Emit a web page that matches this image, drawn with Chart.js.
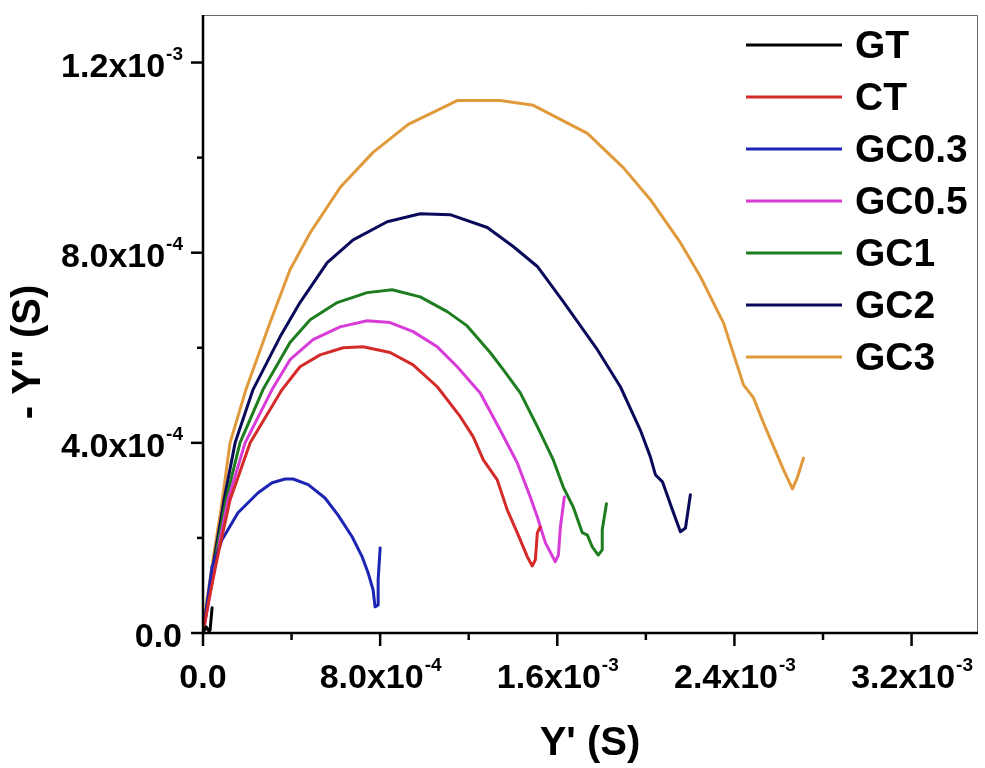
<!DOCTYPE html>
<html>
<head>
<meta charset="utf-8">
<script src="https://cdn.jsdelivr.net/npm/chart.js@4.4.1/dist/chart.umd.min.js"></script>
<style>
  html, body { margin: 0; padding: 0; background: #fff; }
  canvas { display: block; }
</style>
</head>
<body>
<canvas id="chart" width="985" height="768"></canvas>
<script>
// Admittance plot data, values in units of 1e-4 S
const seriesNames = ["GT", "CT", "GC0.3", "GC0.5", "GC1", "GC2", "GC3"];
const seriesColors = ["#000000", "#d42a2a", "#1c24b4", "#d83cd8", "#1e7d1e", "#0a0a5a", "#e09a3c"];

const gtX = [0, 0.14, 0.27, 0.32, 0.41];
const gtY = [0, 0.13, 0.04, 0.06, 0.53];

const ctX = [0, 0.27, 0.63, 1.22, 2.13, 3.57, 4.38, 5.29, 6.33, 7.23, 8.45, 9.49, 10.58, 11.62, 12.20, 12.66, 13.29, 13.74, 14.19, 14.65, 14.87, 15.01, 15.10, 15.23];
const ctY = [0, 0.70, 1.54, 2.80, 4.00, 5.12, 5.60, 5.85, 6.00, 6.02, 5.90, 5.64, 5.18, 4.55, 4.13, 3.64, 3.22, 2.59, 2.11, 1.60, 1.41, 1.54, 2.11, 2.23];

const gc03X = [0, 0.41, 0.86, 1.58, 2.49, 3.12, 3.71, 4.07, 4.75, 5.51, 6.10, 6.74, 7.19, 7.46, 7.68, 7.77, 7.91, 7.91, 8.00];
const gc03Y = [0, 1.39, 1.96, 2.53, 2.95, 3.16, 3.24, 3.24, 3.12, 2.84, 2.48, 2.02, 1.60, 1.26, 0.91, 0.55, 0.59, 1.12, 1.79];

const gc05X = [0, 0.27, 0.59, 1.13, 1.90, 3.12, 3.93, 4.97, 6.19, 7.41, 8.45, 9.49, 10.58, 11.48, 12.52, 13.42, 14.19, 14.78, 15.10, 15.46, 15.91, 16.05, 16.14, 16.32];
const gc05Y = [0, 0.70, 1.54, 2.80, 4.00, 5.12, 5.75, 6.17, 6.44, 6.57, 6.53, 6.34, 6.02, 5.60, 5.05, 4.27, 3.58, 2.86, 2.44, 1.90, 1.50, 1.64, 2.23, 2.86];

const gc1X = [0, 0.23, 0.54, 1.04, 1.67, 2.71, 3.93, 4.84, 6.06, 7.41, 8.54, 9.81, 11.03, 11.93, 12.97, 13.56, 14.33, 15.10, 15.82, 16.27, 16.72, 17.13, 17.36, 17.58, 17.85, 18.03, 18.03, 18.22];
const gc1Y = [0, 0.70, 1.54, 2.80, 4.00, 5.12, 6.11, 6.59, 6.95, 7.16, 7.22, 7.07, 6.76, 6.46, 5.90, 5.54, 5.05, 4.34, 3.64, 3.07, 2.65, 2.11, 2.06, 1.81, 1.64, 1.75, 2.17, 2.72];

const gc2X = [0, 0.23, 0.50, 0.95, 1.45, 2.26, 3.48, 4.38, 5.61, 6.78, 8.32, 9.81, 11.16, 12.84, 14.01, 15.10, 16.27, 17.81, 18.85, 19.75, 20.20, 20.43, 20.75, 21.20, 21.56, 21.79, 22.01];
const gc2Y = [0, 0.70, 1.54, 2.80, 4.00, 5.12, 6.23, 6.95, 7.79, 8.27, 8.65, 8.82, 8.80, 8.53, 8.13, 7.71, 6.97, 5.96, 5.18, 4.27, 3.71, 3.33, 3.18, 2.59, 2.13, 2.21, 2.91];

const gc3X = [0, 0.18, 0.45, 0.81, 1.22, 1.94, 3.03, 3.93, 4.84, 6.19, 7.68, 9.27, 11.48, 13.42, 14.92, 17.36, 18.98, 20.20, 21.56, 22.46, 23.50, 24.41, 24.86, 25.31, 26.22, 26.62, 26.85, 27.12];
const gc3Y = [0, 0.70, 1.54, 2.59, 4.00, 5.12, 6.53, 7.64, 8.42, 9.37, 10.11, 10.70, 11.20, 11.20, 11.10, 10.51, 9.79, 9.12, 8.21, 7.50, 6.53, 5.22, 4.95, 4.42, 3.43, 3.03, 3.28, 3.68];

const seriesX = [gtX, ctX, gc03X, gc05X, gc1X, gc2X, gc3X];
const seriesY = [gtY, ctY, gc03Y, gc05Y, gc1Y, gc2Y, gc3Y];

const FONT = '"Liberation Sans", Arial, sans-serif';

function toPoints(xs, ys) {
  return xs.map((x, i) => ({ x: x * 1e-4, y: ys[i] * 1e-4 }));
}

const datasets = seriesNames.map((name, i) => ({
  label: name,
  data: toPoints(seriesX[i], seriesY[i]),
  borderColor: seriesColors[i],
  backgroundColor: seriesColors[i],
  borderWidth: 3,
  pointRadius: 0,
  tension: 0,
  borderJoinStyle: "round",
  borderCapStyle: "round",
}));

// splits a value into "8.0x10" and "-4"
function sciParts(v) {
  if (Math.abs(v) < 1e-12) return ["0.0", ""];
  const exp = Math.floor(Math.log10(v) + 1e-9);
  const mant = v / Math.pow(10, exp);
  return [mant.toFixed(1) + "x10", String(exp)];
}

function drawSci(ctx, v, x, baseline, align) {
  const [main, sup] = sciParts(v);
  ctx.font = "bold 34px " + FONT;
  const wMain = ctx.measureText(main).width;
  ctx.font = "bold 19px " + FONT;
  const wSup = sup ? ctx.measureText(sup).width : 0;
  const total = wMain + wSup;
  let start = align === "right" ? x - total : x - total / 2;
  ctx.textAlign = "left";
  ctx.textBaseline = "alphabetic";
  ctx.font = "bold 34px " + FONT;
  ctx.fillText(main, start, baseline);
  if (sup) {
    ctx.font = "bold 19px " + FONT;
    ctx.fillText(sup, start + wMain + 1, baseline - 17);
  }
}

function isMultiple(v, step) {
  const r = v / step;
  return Math.abs(r - Math.round(r)) < 1e-6;
}

const decorPlugin = {
  id: "decor",
  afterDraw(chart) {
    const ctx = chart.ctx;
    const a = chart.chartArea;
    const xs = chart.scales.x;
    const ys = chart.scales.y;
    ctx.save();

    // thin frame top and right
    ctx.strokeStyle = "#6a6a6a";
    ctx.lineWidth = 1;
    ctx.beginPath();
    ctx.moveTo(a.left, a.top + 0.5);
    ctx.lineTo(a.right - 0.5, a.top + 0.5);
    ctx.lineTo(a.right - 0.5, a.bottom);
    ctx.stroke();

    // main axes
    ctx.strokeStyle = "#000";
    ctx.lineWidth = 2.5;
    ctx.beginPath();
    ctx.moveTo(a.left, a.top);
    ctx.lineTo(a.left, a.bottom);
    ctx.lineTo(a.right, a.bottom);
    ctx.stroke();

    ctx.fillStyle = "#000";

    // x ticks and labels
    xs.ticks.forEach((t) => {
      const px = xs.getPixelForValue(t.value);
      const major = isMultiple(t.value, 8e-4);
      ctx.beginPath();
      ctx.moveTo(px, a.bottom);
      ctx.lineTo(px, a.bottom + (major ? 13 : 7));
      ctx.stroke();
      if (major) drawSci(ctx, t.value, px, a.bottom + 55, "center");
    });

    // y ticks and labels
    ys.ticks.forEach((t) => {
      const py = ys.getPixelForValue(t.value);
      const major = isMultiple(t.value, 4e-4);
      ctx.beginPath();
      ctx.moveTo(a.left, py);
      ctx.lineTo(a.left - (major ? 12 : 6), py);
      ctx.stroke();
      if (major) drawSci(ctx, t.value, 182, py + 14, "right");
    });

    // axis titles
    ctx.font = "bold 40px " + FONT;
    ctx.textAlign = "center";
    ctx.textBaseline = "alphabetic";
    ctx.fillText("Y' (S)", 590, 755);

    ctx.save();
    ctx.translate(40, 352);
    ctx.rotate(-Math.PI / 2);
    ctx.fillText('- Y" (S)', 0, 0);
    ctx.restore();

    // legend
    chart.data.datasets.forEach((ds, i) => {
      const ly = 45 + i * 52;
      ctx.strokeStyle = ds.borderColor;
      ctx.lineWidth = 3;
      ctx.beginPath();
      ctx.moveTo(746, ly);
      ctx.lineTo(842, ly);
      ctx.stroke();
      ctx.fillStyle = "#000";
      ctx.font = "bold 39px " + FONT;
      ctx.textAlign = "left";
      ctx.fillText(ds.label, 855, ly + 13);
    });

    ctx.restore();
  },
};

new Chart(document.getElementById("chart").getContext("2d"), {
  type: "line",
  data: { datasets: datasets },
  options: {
    responsive: false,
    animation: false,
    devicePixelRatio: 1,
    layout: { padding: { top: 15, right: 7, left: 0, bottom: 0 } },
    plugins: {
      legend: { display: false },
      tooltip: { enabled: false },
    },
    scales: {
      x: {
        type: "linear",
        min: 0,
        max: 3.5e-3,
        grid: { display: false },
        border: { display: false },
        ticks: { display: false, stepSize: 4e-4, includeBounds: false },
        afterFit: (scale) => { scale.height = 135; },
      },
      y: {
        type: "linear",
        min: 0,
        max: 1.3e-3,
        grid: { display: false },
        border: { display: false },
        ticks: { display: false, stepSize: 2e-4, includeBounds: false },
        afterFit: (scale) => { scale.width = 203; },
      },
    },
  },
  plugins: [decorPlugin],
});
</script>
</body>
</html>
